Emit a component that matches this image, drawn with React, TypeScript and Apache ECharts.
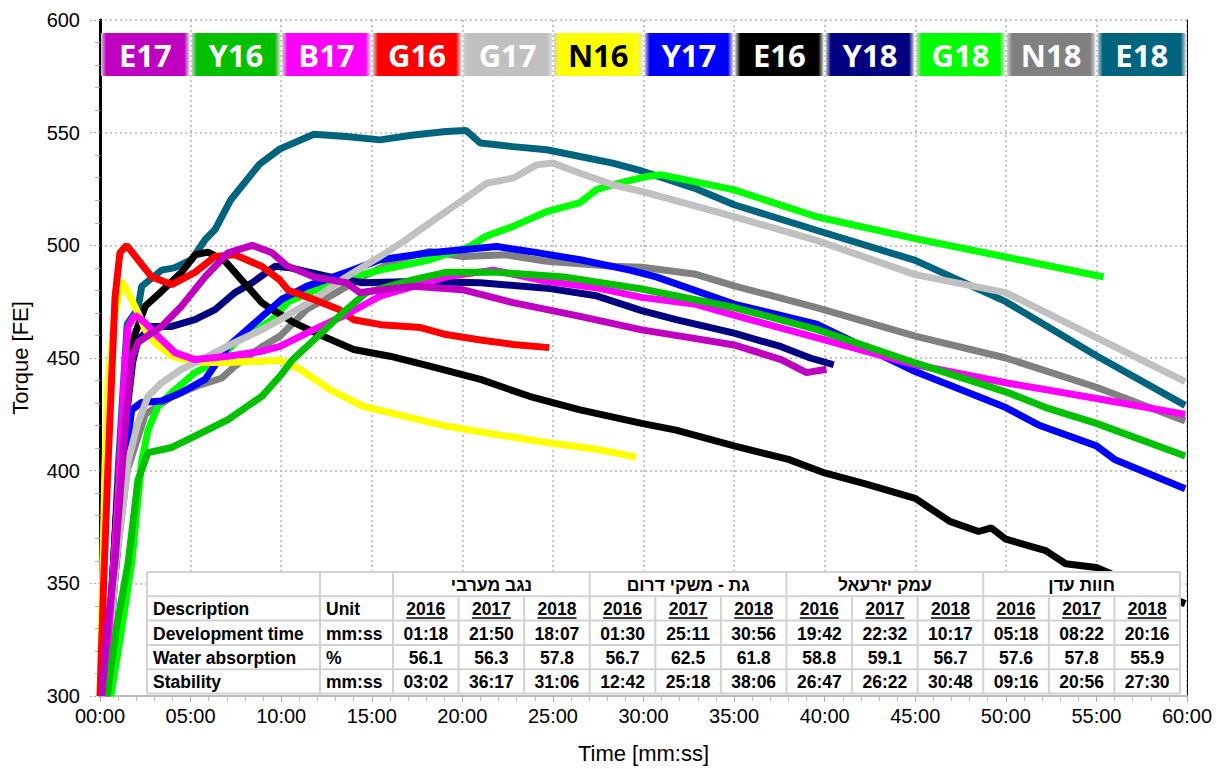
import React, { useEffect, useRef } from 'react';
import * as echarts from 'echarts';

const seriesNames = ['E17', 'Y16', 'B17', 'G16', 'G17', 'N16', 'Y17', 'E16', 'Y18', 'G18', 'N18', 'E18'];
const seriesColors = ['#C000C0', '#00C000', '#FF00FF', '#FF0000', '#C0C0C0', '#FFFF00', '#0000FF', '#000000', '#000080', '#00FF00', '#808080', '#00647F'];
const legendTextColors = ['#fff', '#fff', '#fff', '#fff', '#fff', '#000', '#fff', '#fff', '#fff', '#fff', '#fff', '#fff'];

// [time (minutes), torque (FE)]
const E17 = [[0.1, 300], [0.4, 330], [0.83, 360], [1.38, 418], [1.75, 450], [2.1, 457], [3.4, 464], [4.5, 473], [5.8, 486], [7.07, 496.7], [8.4, 500], [9.5, 496.7], [10.3, 491], [11.8, 486], [13.6, 483.4], [14.35, 479], [14.9, 479.6], [17.3, 481.8], [20, 480.3], [22.8, 474.6], [26.5, 468.5], [29.9, 462.5], [32.8, 458.7], [35, 455.8], [37.6, 449.3], [39, 443.5], [40.1, 445]];
const Y16 = [[0.4, 300], [0.9, 330], [1.55, 359], [2.1, 396], [2.65, 408], [3.96, 410.3], [5.24, 415.3], [7.07, 422.7], [8.93, 433], [9.94, 442], [10.6, 449], [11.8, 458], [13.6, 471.5], [14.7, 479], [17.3, 484.8], [19.1, 488], [21.9, 488], [25.6, 486], [29.9, 480.6], [35, 472.4], [39.55, 462.7], [45, 447.8], [50, 435], [52.2, 428], [55, 421], [59.9, 406.5]];
const B17 = [[0.2, 300], [0.6, 340], [1.0, 389], [1.38, 448], [1.55, 464], [1.93, 469], [2.48, 465.7], [3.2, 459.7], [4.14, 452.4], [5.24, 449.3], [7.07, 450.8], [8.93, 453], [9.94, 455.2], [11.8, 462.6], [13.6, 469.3], [15.45, 477.4], [17.3, 481.8], [19.1, 486], [21.7, 489], [24.66, 484], [27.5, 481], [29.9, 476.9], [32.8, 474], [35, 469], [39.55, 459], [45, 447], [50, 439], [55, 432], [59.9, 425]];
const G16 = [[0, 300], [0.2, 350], [0.45, 404], [0.83, 477], [1.1, 496.7], [1.47, 500], [2.1, 493.6], [2.85, 486], [3.96, 482.6], [5.24, 488], [6.35, 495], [7.45, 495.8], [8.92, 490.7], [9.9, 484.8], [10.4, 480], [11.8, 476], [13.2, 471.5], [14, 467], [15.5, 464.8], [17.7, 463.5], [19.1, 460.4], [21, 458], [22.8, 456], [24.8, 454.6]];
const G17 = [[0.3, 300], [0.9, 360], [1.55, 404], [2.1, 421.4], [2.65, 433], [3.4, 439], [4.5, 445], [5.96, 450.8], [7.45, 456.9], [8.93, 462.6], [9.94, 467], [11.8, 476], [13.6, 486], [15.45, 495], [16.9, 502.5], [18.2, 510], [20, 520], [21.35, 527.6], [22.8, 529.8], [24.1, 535.7], [25, 536.5], [26.5, 532], [28.3, 526.9], [29.9, 523.9], [35, 512.7], [39.55, 502.2], [45, 487], [50, 479], [55, 459], [59.9, 439.5]];
const N16 = [[0, 300], [0.28, 404], [0.44, 440], [0.83, 470], [1.2, 484], [1.5, 480], [2.1, 470], [2.5, 462.6], [3.0, 457], [3.96, 450.8], [5.24, 448], [7.07, 448], [8.9, 448.6], [9.94, 449], [11.04, 445], [12.7, 436], [14.5, 428.6], [16.9, 424], [19.1, 419.8], [21.9, 416], [24.66, 412.5], [27.4, 409.5], [29.6, 406]];
const Y17 = [[0.3, 300], [0.8, 350], [1.38, 404], [1.75, 427], [2.3, 430.3], [3.4, 430.9], [4.5, 434.7], [5.8, 440.5], [7.07, 455.2], [8.56, 465.7], [10.03, 476], [11.4, 481.8], [13.6, 488], [15.45, 493.6], [18.2, 496.7], [20, 498], [21.9, 499.5], [23.7, 497.3], [26.5, 493.6], [29.25, 489], [30.7, 486], [35, 473.9], [39.55, 465], [45, 444], [50, 428], [51.8, 420.3], [55, 411], [56, 405], [59.9, 392]];
const E16 = [[0.3, 300], [0.9, 380], [1.4, 440], [1.9, 460], [2.5, 473], [3.4, 479.6], [4.5, 488], [5.24, 495.8], [5.96, 497], [6.9, 493], [7.8, 484.8], [8.93, 474.6], [9.5, 471.5], [10.7, 465.7], [12.3, 459.7], [14, 453.8], [16, 450.8], [18.2, 446.4], [21, 440.5], [23.7, 433], [26.5, 427], [29.9, 421], [31.8, 418], [35, 411], [38, 405], [40, 399], [42.3, 394], [45, 387.7], [46.9, 377.5], [48.5, 373], [49.2, 374.6], [50, 369.6], [52.2, 364.5], [53.3, 358.7], [55, 357], [57, 350], [59.9, 341]];
const Y18 = [[0.3, 300], [0.9, 380], [1.4, 420], [1.8, 448], [2.1, 458], [2.85, 464], [3.96, 464], [5.24, 467], [6.35, 471.5], [7.45, 479], [8.4, 483.4], [9.66, 490.7], [10.5, 490], [12.7, 486], [14.5, 483.4], [17.3, 484], [21, 483.4], [24.66, 481], [27.4, 477.6], [29.9, 471], [31.8, 467], [35, 461], [37.6, 455], [39.2, 450], [40.5, 447]];
const G18 = [[0.6, 300], [1.2, 330], [1.75, 359], [2.3, 404], [2.65, 418], [3.2, 428.6], [3.96, 434.7], [5.24, 443.5], [6.35, 448], [7.5, 457], [9.5, 467], [10.4, 475], [13, 484], [15.45, 489], [18.2, 493.6], [20.4, 499.5], [21.3, 504], [22.8, 508.4], [24.66, 515], [26.5, 519], [27.4, 524.7], [28.3, 526.9], [30.2, 530.6], [31, 531.3], [35, 524.6], [39.55, 512.7], [45, 503], [50, 494.8], [55, 486.6], [55.4, 486]];
const N18 = [[0.3, 300], [0.9, 360], [1.5, 400], [2.5, 425], [4, 433], [5.5, 438], [6.7, 441], [7.45, 446.4], [8.93, 455], [9.94, 459.7], [11.4, 471.5], [12.7, 477.4], [14.5, 486], [16.4, 493.6], [18.2, 497.3], [20, 495], [22.4, 495.8], [24.66, 492.9], [28.3, 490.7], [29.9, 490.3], [32.8, 487.3], [35, 482], [39.55, 472.4], [45, 459.7], [50, 450], [55, 437], [59.9, 422]];
const E18 = [[0.4, 300], [1.0, 400], [1.5, 465], [2.1, 472], [2.3, 481.8], [3.4, 489], [4.1, 490], [5.06, 493.6], [5.8, 502.5], [6.35, 507], [7.2, 520], [8.8, 536], [9.94, 542.8], [11.8, 549.3], [13.6, 548.3], [15.45, 546.8], [17.3, 549], [19.1, 550.5], [20.2, 551], [21, 545.4], [22.8, 543.8], [24.66, 542.4], [26.5, 539.4], [28.3, 536.5], [29.9, 533], [32.8, 525.4], [35, 518], [39.55, 506.7], [45, 493.3], [50, 475], [55, 451], [59.9, 429]];

const seriesData = [E17, Y16, B17, G16, G17, N16, Y17, E16, Y18, G18, N18, E18];

const xTickLabels = ['00:00', '05:00', '10:00', '15:00', '20:00', '25:00', '30:00', '35:00', '40:00', '45:00', '50:00', '55:00', '60:00'];

const tableRegions = ['נגב מערבי', 'גת - משקי דרום', 'עמק יזרעאל', 'חוות עדן'];
const tableYears = ['2016', '2017', '2018'];
const headerLabels = ['Description', 'Unit'];
const rowLabels = ['Development time', 'Water absorption', 'Stability'];
const rowUnits = ['mm:ss', '%', 'mm:ss'];
const devTime = ['01:18', '21:50', '18:07', '01:30', '25:11', '30:56', '19:42', '22:32', '10:17', '05:18', '08:22', '20:16'];
const waterAbs = ['56.1', '56.3', '57.8', '56.7', '62.5', '61.8', '58.8', '59.1', '56.7', '57.6', '57.8', '55.9'];
const stability = ['03:02', '36:17', '31:06', '12:42', '25:18', '38:06', '26:47', '26:22', '30:48', '09:16', '20:56', '27:30'];
const tableValues = [devTime, waterAbs, stability];

const W = 1221;
const H = 769;
const GRID = { left: 100, right: 34, top: 20, bottom: 72 };
const FONT = "'Liberation Sans', Arial, sans-serif";

function buildGraphic(): any[] {
  const els: any[] = [];
  const plotW = W - GRID.left - GRID.right;
  const boxW = plotW / seriesNames.length;
  // legend boxes
  seriesNames.forEach((name, i) => {
    const x = GRID.left + i * boxW;
    const c = seriesColors[i];
    els.push({
      type: 'rect',
      z: 100,
      shape: { x: x + 1, y: 33, width: boxW - 2, height: 43 },
      style: {
        fill: new echarts.graphic.LinearGradient(0, 0, 1, 0, [
          { offset: 0, color: '#cfcfcf' },
          { offset: 0.06, color: c },
          { offset: 0.94, color: c },
          { offset: 1, color: '#dcdcdc' },
        ]),
      },
    });
    els.push({
      type: 'text',
      z: 101,
      x: x + boxW / 2,
      y: 55,
      style: {
        text: name,
        fill: legendTextColors[i],
        font: "bold 31px 'Open Sans', 'Noto Sans', sans-serif",
        align: 'center',
        verticalAlign: 'middle',
      },
    });
  });

  // table
  const tL = 147, tR = 1180, tT = 572;
  const rowH = 24.3;
  const nRows = 5;
  const tB = tT + rowH * nRows;
  const c1 = 320, c2 = 393;
  const colW = (tR - c2) / 12;
  const lineColor = '#d2d2d2';
  els.push({ type: 'rect', z: 100, shape: { x: tL, y: tT, width: tR - tL, height: tB - tT }, style: { fill: '#fff' } });
  for (let r = 0; r <= nRows; r++) {
    const y = tT + r * rowH;
    els.push({ type: 'line', z: 101, shape: { x1: tL, y1: y, x2: tR, y2: y }, style: { stroke: lineColor, lineWidth: 2 } });
  }
  [tL, c1, c2].forEach((x) => {
    els.push({ type: 'line', z: 101, shape: { x1: x, y1: tT, x2: x, y2: tB }, style: { stroke: lineColor, lineWidth: 2 } });
  });
  for (let k = 1; k <= 12; k++) {
    const x = c2 + k * colW;
    const y1 = k % 3 === 0 ? tT : tT + rowH;
    els.push({ type: 'line', z: 101, shape: { x1: x, y1, x2: x, y2: tB }, style: { stroke: lineColor, lineWidth: 2 } });
  }
  const txt = (text: string, x: number, y: number, align: string) => ({
    type: 'text',
    z: 102,
    x,
    y,
    style: { text, fill: '#000', font: `bold 17.5px ${FONT}`, align, verticalAlign: 'middle' },
  });
  // header region row
  tableRegions.forEach((reg, g) => {
    els.push(txt(reg, c2 + (g * 3 + 1.5) * colW, tT + rowH * 0.5 + 1, 'center'));
  });
  // description row
  const yDesc = tT + rowH * 1.5 + 1;
  els.push(txt(headerLabels[0], tL + 6, yDesc, 'left'));
  els.push(txt(headerLabels[1], c1 + 6, yDesc, 'left'));
  for (let k = 0; k < 12; k++) {
    const cx = c2 + (k + 0.5) * colW;
    const yr = tableYears[k % 3];
    els.push(txt(yr, cx, yDesc, 'center'));
    els.push({ type: 'line', z: 102, shape: { x1: cx - 19.5, y1: yDesc + 8.5, x2: cx + 19.5, y2: yDesc + 8.5 }, style: { stroke: '#000', lineWidth: 1.6 } });
  }
  rowLabels.forEach((lab, r) => {
    const y = tT + rowH * (2.5 + r) + 1;
    els.push(txt(lab, tL + 6, y, 'left'));
    els.push(txt(rowUnits[r], c1 + 6, y, 'left'));
    tableValues[r].forEach((v, k) => {
      els.push(txt(v, c2 + (k + 0.5) * colW, y, 'center'));
    });
  });
  return els;
}

export default function App() {
  const ref = useRef<HTMLDivElement>(null);
  useEffect(() => {
    if (!ref.current) return;
    const chart = echarts.init(ref.current, null, { renderer: 'svg' });
    const gridLine = { color: '#b4b4b4', width: 1.5, type: [2, 3] };
    const series = seriesNames
      .map((name, i) => ({
        name,
        type: 'line',
        data: seriesData[i],
        showSymbol: false,
        symbol: 'none',
        lineStyle: { color: seriesColors[i], width: 7, join: 'bevel' },
        itemStyle: { color: seriesColors[i] },
        clip: true,
      }))
      .reverse();
    chart.setOption({
      animation: false,
      backgroundColor: '#fff',
      grid: { left: GRID.left, right: GRID.right, top: GRID.top, bottom: GRID.bottom, containLabel: false },
      xAxis: {
        type: 'value',
        min: 0,
        max: 60,
        interval: 5,
        name: 'Time [mm:ss]',
        nameLocation: 'middle',
        nameGap: 46,
        nameTextStyle: { fontSize: 22, color: '#000', fontFamily: FONT },
        axisLine: { show: true, onZero: false, lineStyle: { color: '#bbb', width: 2 } },
        axisTick: { show: true, length: 6, lineStyle: { color: '#aaa' } },
        minorTick: { show: true, splitNumber: 5, length: 5, lineStyle: { color: '#bbb' } },
        axisLabel: { fontSize: 20, color: '#000', fontFamily: FONT, margin: 10, formatter: (v: number) => xTickLabels[Math.round(v / 5)] },
        splitLine: { show: true, lineStyle: gridLine },
      },
      yAxis: [
        {
          type: 'value',
          min: 300,
          max: 600,
          interval: 50,
          name: 'Torque [FE]',
          nameLocation: 'middle',
          nameGap: 69,
          nameTextStyle: { fontSize: 22, color: '#000', fontFamily: FONT },
          axisLine: { show: true, lineStyle: { color: '#000', width: 3 } },
          axisTick: { show: true, length: 12, lineStyle: { color: '#aaa', type: [2, 2] } },
          minorTick: { show: true, splitNumber: 5, length: 5, lineStyle: { color: '#aaa' } },
          axisLabel: { fontSize: 20, color: '#000', fontFamily: FONT, margin: 20 },
          splitLine: { show: true, lineStyle: gridLine },
        },
        {
          type: 'value',
          min: 300,
          max: 600,
          interval: 50,
          position: 'right',
          axisLine: { show: true, lineStyle: { color: '#000', width: 1 } },
          axisTick: { show: false },
          axisLabel: { show: false },
          splitLine: { show: false },
        },
      ],
      series,
      graphic: buildGraphic(),
    });
    return () => chart.dispose();
  }, []);
  return <div ref={ref} style={{ position: 'fixed', left: 0, top: 0, width: W, height: H }} />;
}
